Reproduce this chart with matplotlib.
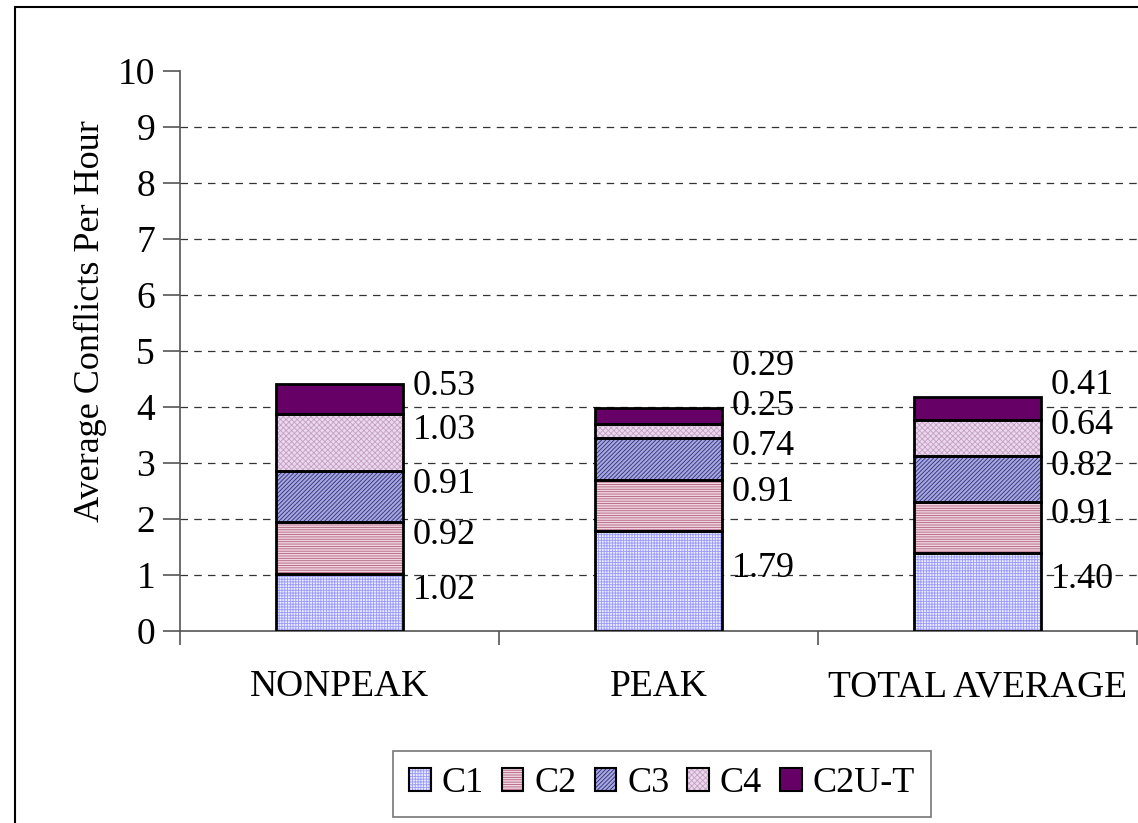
import numpy as np
import matplotlib.pyplot as plt
from matplotlib.patches import Rectangle, Patch
from matplotlib.legend_handler import HandlerTuple

# conflict counts per hour, stacked by conflict type
periods = ["NONPEAK", "PEAK", "TOTAL AVERAGE"]
types = ["C1", "C2", "C3", "C4", "C2U-T"]
c1 = [1.02, 1.79, 1.40]
c2 = [0.92, 0.91, 0.91]
c3 = [0.91, 0.74, 0.82]
c4 = [1.03, 0.25, 0.64]
c2ut = [0.53, 0.29, 0.41]

faces = ["#ececff", "#f0d4de", "#a8a8d8", "#ecd8ec", "#660066"]
hatchcols = ["#9999ff", "#b06080", "#2a2a8a", "#c4a0c4", "#660066"]
hatches = ["++++++", "-------", "////////", "xxxxxx", None]

plt.rcParams['font.family'] = ['Liberation Serif', 'DejaVu Serif']
plt.rcParams['hatch.linewidth'] = 0.6

fig = plt.figure(figsize=(11.38, 8.23), dpi=100)
fig.patches.append(Rectangle((15 / 1138, -0.1), 1.2, 1 - 7 / 823 + 0.1,
                             transform=fig.transFigure, fill=False,
                             edgecolor='black', linewidth=1.5))
ax = fig.add_axes([180 / 1138, 1 - 631 / 823, (1137 - 180) / 1138, (631 - 71) / 823])

x = np.arange(len(periods))
width = 0.4
series = [c1, c2, c3, c4, c2ut]
bottom = np.zeros(len(periods))
label_pos = [[] for _ in periods]
for vals, fc, hc, h in zip(series, faces, hatchcols, hatches):
    vals = np.array(vals)
    ax.bar(x, vals, width, bottom=bottom, color=fc, edgecolor=hc, hatch=h,
           linewidth=0, zorder=3)
    ax.bar(x, vals, width, bottom=bottom, fill=False, edgecolor='black',
           linewidth=2, zorder=4)
    for i in range(len(periods)):
        label_pos[i].append((bottom[i] + vals[i] / 2 + 0.22, vals[i]))
    bottom += vals

# value labels to the right of each bar, pushed apart so they don't overlap
for i, labs in enumerate(label_pos):
    prev = -10
    for y, v in labs:
        y = max(y, prev + 0.72)
        prev = y
        ax.text(x[i] + width / 2 + 0.03, y, f"{v:.2f}", va='center', ha='left',
                fontsize=26, zorder=5)

ax.set_xlim(-0.5, 2.5)
ax.set_ylim(0, 10)
ax.set_yticks(range(0, 11))
ax.tick_params(axis='y', labelsize=27, length=12, color='#555555', width=1.2, pad=6)
ax.set_xticks(x)
ax.set_xticklabels(periods, fontsize=27)
ax.tick_params(axis='x', length=0, pad=28)
ax.set_xticks([-0.5, 0.5, 1.5, 2.5], minor=True)
ax.tick_params(axis='x', which='minor', length=10, color='#555555', width=1.2)
for yv in range(1, 10):
    ax.axhline(yv, color='#333333', linestyle=(0, (6, 5)), linewidth=0.9, zorder=1)
for side in ['top', 'right']:
    ax.spines[side].set_visible(False)
for side in ['left', 'bottom']:
    ax.spines[side].set_color('#555555')
    ax.spines[side].set_linewidth(1.2)
ax.set_ylabel("Average Conflicts Per Hour", fontsize=26)
ax.yaxis.set_label_coords(-0.076, 0.553)

# hatched swatch with a black outline laid over it
handles = [(Patch(facecolor=fc, edgecolor=hc, hatch=h, linewidth=0),
            Patch(fill=False, edgecolor='black', linewidth=1.5))
           for fc, hc, h in zip(faces, hatchcols, hatches)]
leg = fig.legend(handles, types, loc='center', bbox_to_anchor=(662 / 1138, 1 - 784 / 823),
                 ncol=5, fontsize=26, frameon=True, fancybox=False, edgecolor='#555555',
                 handlelength=0.6, handleheight=0.6, handletextpad=0.3, columnspacing=0.5,
                 borderpad=0.45, handler_map={tuple: HandlerTuple(ndivide=1, pad=0)})
leg.get_frame().set_linewidth(1.2)

fig.savefig("out.png", dpi=100)
